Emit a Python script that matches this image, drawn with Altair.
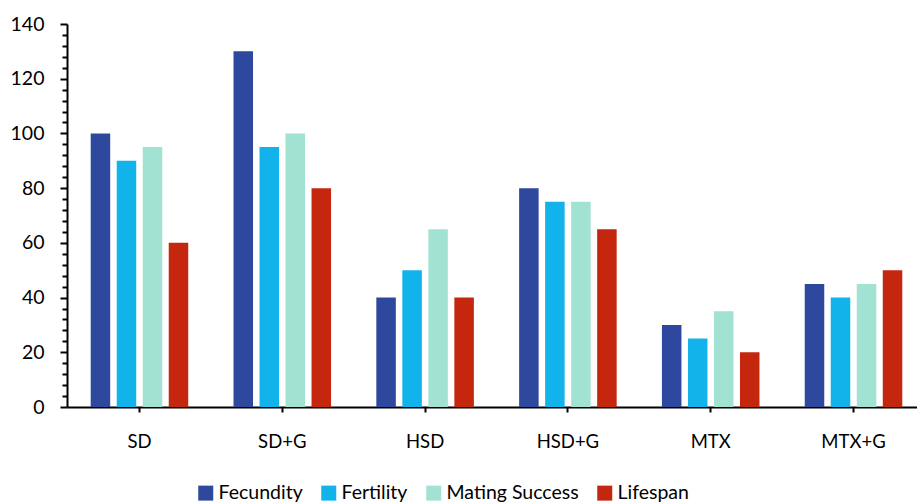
import altair as alt
import pandas as pd

# Treatment groups and the four measured traits
groups = ["SD", "SD+G", "HSD", "HSD+G", "MTX", "MTX+G"]
measures = ["Fecundity", "Fertility", "Mating Success", "Lifespan"]

fecundity = [100, 130, 40, 80, 30, 45]
fertility = [90, 95, 50, 75, 25, 40]
mating_success = [95, 100, 65, 75, 35, 45]
lifespan = [60, 80, 40, 65, 20, 50]

colors = ["#2E489E", "#12B2EA", "#A2E2D2", "#C4260E"]

# y-axis ticks: minor every 4, labelled every 20
y_tick_values = list(range(0, 141, 4))

rows = []
for m, vals in zip(measures, [fecundity, fertility, mating_success, lifespan]):
    for g, v in zip(groups, vals):
        rows.append({"group": g, "measure": m, "value": v})
df = pd.DataFrame(rows)

FONT = "Lato"

chart = (
    alt.Chart(df)
    .mark_bar()
    .encode(
        x=alt.X(
            "group:N",
            sort=groups,
            scale=alt.Scale(paddingInner=0.317, paddingOuter=0.1345, align=0.617),
            axis=alt.Axis(
                title=None,
                labelAngle=0,
                labelFont=FONT,
                labelFontSize=18.5,
                labelColor="black",
                labelPadding=20,
                tickSize=5,
                tickWidth=2,
                tickColor="black",
                domainColor="black",
                domainWidth=2,
                grid=False,
            ),
        ),
        xOffset=alt.XOffset(
            "measure:N",
            sort=measures,
            scale=alt.Scale(paddingInner=0.25, paddingOuter=0),
        ),
        y=alt.Y(
            "value:Q",
            scale=alt.Scale(domain=[0, 140], nice=False),
            axis=alt.Axis(
                title=None,
                values=y_tick_values,
                labelExpr="datum.value % 20 === 0 ? datum.label : ''",
                labelOverlap=False,
                labelFont=FONT,
                labelFontSize=19.5,
                labelColor="black",
                labelPadding=16,
                tickSize={"condition": {"test": "datum.value % 20 === 0", "value": 7}, "value": 5},
                tickWidth=2,
                tickColor="black",
                domainColor="black",
                domainWidth=2,
                grid=False,
            ),
        ),
        color=alt.Color(
            "measure:N",
            sort=measures,
            scale=alt.Scale(domain=measures, range=colors),
            legend=alt.Legend(
                title=None,
                orient="none",
                legendX=129,
                legendY=459,
                direction="horizontal",
                symbolType="square",
                symbolSize=225,
                symbolStrokeWidth=0,
                labelFont=FONT,
                labelFontSize=19.5,
                labelColor="black",
                labelOffset=3,
                columnPadding=16,
                padding=0,
            ),
        ),
    )
    .properties(
        width=850,
        height=383,
        autosize=alt.AutoSizeParams(type="none"),
        padding={"left": 67, "top": 24, "right": 0, "bottom": 95},
    )
    .configure_view(stroke=None)
)

chart.save("out.html", embed_options={"renderer": "svg", "actions": False})
